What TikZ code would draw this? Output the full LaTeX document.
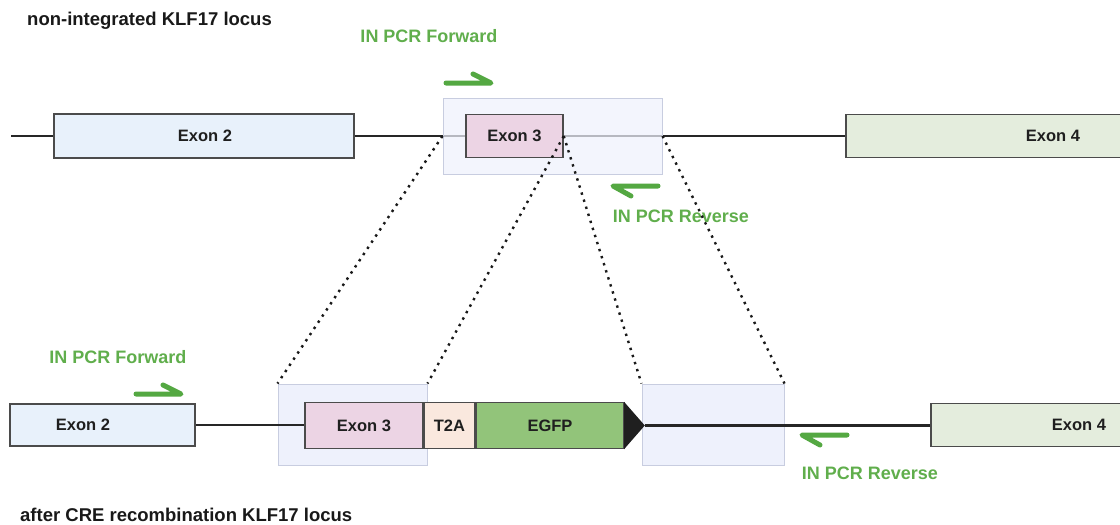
\documentclass[tikz,border=0pt]{standalone}
\usepackage{fontspec}
\setmainfont{Liberation Sans}
\definecolor{exontwo}{RGB}{232,241,251}
\definecolor{exonthree}{RGB}{236,212,228}
\definecolor{exonfour}{RGB}{228,237,221}
\definecolor{tpeach}{RGB}{250,232,222}
\definecolor{egfp}{RGB}{146,196,122}
\definecolor{hlfill}{RGB}{238,241,252}
\definecolor{hldraw}{RGB}{200,205,224}
\definecolor{boxline}{RGB}{75,75,75}
\definecolor{primer}{RGB}{84,168,66}
\definecolor{primertext}{RGB}{96,174,76}
\tikzset{
  exonbox/.style={draw=boxline, line width=1.5pt, rectangle, inner sep=0pt},
  hlbox/.style={draw=hldraw, line width=1pt, fill=hlfill, rectangle, inner sep=0pt},
  locus/.style={draw=black!85, line width=2.8pt},
  zoomline/.style={draw=black!90, line width=2.4pt, dash pattern=on 2.4pt off 5pt},
  harpoon/.style={draw=primer, line width=5pt, line cap=round, line join=round},
  exonlabel/.style={font=\bfseries\fontsize{16.5}{19}\selectfont, text=black!88, inner sep=0pt},
  primerlabel/.style={font=\bfseries\fontsize{18}{21}\selectfont, text=primertext, inner sep=0pt},
  titlelabel/.style={font=\bfseries\fontsize{18.5}{21}\selectfont, text=black!90, inner sep=0pt, anchor=west},
}
\begin{document}
\begin{tikzpicture}[x=1pt, y=-1pt]
\useasboundingbox (0,0) rectangle (1120,525);

% ---------- non-integrated locus ----------
\node[titlelabel] (ttop) at (27,21) {non-integrated KLF17 locus};

\coordinate (tstart) at (11,136);
\node[exonbox, fill=exontwo, minimum width=300pt, minimum height=44pt] (e2t) at (204,136) {};
\node[exonbox, fill=exonfour, minimum width=290pt, minimum height=43pt] (e4t) at (991,136) {};
\draw[locus] (tstart) -- (e2t.west);
\draw[locus] (e2t.east) -- (e4t.west);

% amplicon window, drawn over the locus line
\node[hlbox, fill opacity=0.72, minimum width=219pt, minimum height=76pt] (hlt) at (552.5,136) {};
\node[exonbox, fill=exonthree, minimum width=97pt, minimum height=43pt] (e3t) at (514.5,136) {};

\node[exonlabel] (e2tl) at (205,136) {Exon 2};
\node[exonlabel] (e3tl) at (514.5,136) {Exon 3};
\node[exonlabel] (e4tl) at (1053,136) {Exon 4};

% primers
\node[primerlabel] (pfT) at (429,36) {IN PCR Forward};
\coordinate (pfTa) at (446,83);
\coordinate (pfTb) at (491,83);
\coordinate (pfTc) at (473,74);
\draw[harpoon] (pfTa) -- (pfTb) -- (pfTc);

\node[primerlabel] (prT) at (681,216) {IN PCR Reverse};
\coordinate (prTa) at (658,186);
\coordinate (prTb) at (613,186);
\coordinate (prTc) at (631,196);
\draw[harpoon] (prTa) -- (prTb) -- (prTc);

% ---------- recombined locus ----------
\node[titlelabel] (tbot) at (20,515) {after CRE recombination KLF17 locus};

\node[hlbox, minimum width=149pt, minimum height=81pt] (hlb1) at (352.5,424.5) {};
\node[hlbox, minimum width=142pt, minimum height=81pt] (hlb2) at (713,424.5) {};

\node[exonbox, fill=exontwo, minimum width=185pt, minimum height=42pt] (e2b) at (102.5,425) {};
\node[exonbox, fill=exonfour, minimum width=200pt, minimum height=43pt] (e4b) at (1031,425) {};

\node[exonbox, fill=exonthree, minimum width=118pt, minimum height=46pt] (e3b) at (364,425.5) {};
\node[exonbox, fill=tpeach, minimum width=50pt, minimum height=46pt, anchor=west] (t2a) at (e3b.east) {};
\node[exonbox, fill=egfp, minimum width=148pt, minimum height=46pt, anchor=west] (gfp) at (t2a.east) {};
\coordinate (tipT) at ([xshift=-0.75pt]gfp.north east);
\coordinate (tipB) at ([xshift=-0.75pt]gfp.south east);
\coordinate (tip) at ([xshift=20pt]gfp.east);
\fill[black!88] (tipT) -- (tip) -- (tipB) -- cycle;

\draw[locus] (e2b.east) -- (e2b.east -| e3b.west);
\draw[locus] (tip) -- (tip -| e4b.west);

\node[exonlabel] (e2bl) at (83,425) {Exon 2};
\node[exonlabel] (e3bl) at (e3b) {Exon 3};
\node[exonlabel] (t2al) at (t2a) {T2A};
\node[exonlabel] (gfpl) at (gfp) {EGFP};
\node[exonlabel] (e4bl) at (1079,425) {Exon 4};

\node[primerlabel] (pfB) at (118,357) {IN PCR Forward};
\coordinate (pfBa) at (136,394);
\coordinate (pfBb) at (181,394);
\coordinate (pfBc) at (163,385);
\draw[harpoon] (pfBa) -- (pfBb) -- (pfBc);

\node[primerlabel] (prB) at (870,473) {IN PCR Reverse};
\coordinate (prBa) at (847,435);
\coordinate (prBb) at (802,435);
\coordinate (prBc) at (820,445);
\draw[harpoon] (prBa) -- (prBb) -- (prBc);

% ---------- zoom guides ----------
\draw[zoomline] (hlt.west) -- (hlb1.north west);
\draw[zoomline] (e3t.east) -- (hlb1.north east);
\draw[zoomline] (e3t.east) -- (hlb2.north west);
\draw[zoomline] (hlt.east) -- (hlb2.north east);
\end{tikzpicture}
\end{document}
